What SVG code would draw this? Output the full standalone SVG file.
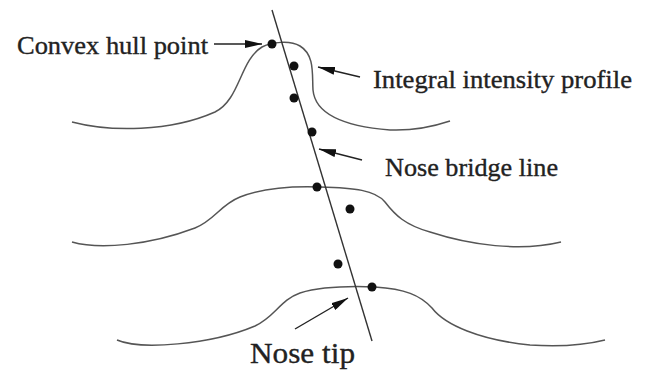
<svg xmlns="http://www.w3.org/2000/svg" width="646" height="370" viewBox="0 0 646 370">
<defs>
<style>
.curve{fill:none;stroke:#555;stroke-width:1.5}
.axis{fill:none;stroke:#333;stroke-width:1.4}
.arr{fill:none;stroke:#222;stroke-width:1.4}
.dot{fill:#111}
.lbl{font-family:"Liberation Serif","Times New Roman",serif;fill:#222;stroke:#222;stroke-width:0.35;font-size:26px}
</style>
<marker id="ah" markerWidth="18" markerHeight="8" refX="17" refY="4" orient="auto" markerUnits="userSpaceOnUse">
<path d="M0,0 L17,4 L0,8 Z" fill="#111"/>
</marker>
</defs>
<rect width="646" height="370" fill="#fff"/>
<g id="profiles">
<path class="curve" d="M72,122 C110,132 170,132 215,112 C240,100 240,60 262,47 C272,42 290,40 300,46 C315,55 312,75 313,90 C315,112 340,126 390,130 C415,131 435,126 450,121"/>
<path class="curve" d="M72,242 C100,250 150,245 195,228 C215,220 220,205 240,197 C260,189 290,186 320,187 C355,188 375,190 385,202 C395,215 405,225 430,232 C470,245 520,252 561,242"/>
<path class="curve" d="M117,340 C140,350 210,345 255,326 C275,317 280,300 300,293 C320,287 350,286 375,287 C405,289 420,295 432,308 C445,325 480,340 530,345 C560,347 585,345 605,340"/>
</g>
<g id="bridge-line">
<line class="axis" x1="272" y1="10" x2="372" y2="341"/>
</g>
<g id="points">
<circle class="dot" cx="272" cy="44" r="4.5"/>
<circle class="dot" cx="294" cy="66" r="4.5"/>
<circle class="dot" cx="294" cy="98" r="4.5"/>
<circle class="dot" cx="312" cy="132" r="4.5"/>
<circle class="dot" cx="317" cy="187" r="4.5"/>
<circle class="dot" cx="350" cy="209" r="4.5"/>
<circle class="dot" cx="338" cy="264" r="4.5"/>
<circle class="dot" cx="372" cy="287" r="4.5"/>
</g>
<g id="connectors">
<line class="arr" x1="214" y1="44" x2="262" y2="44" marker-end="url(#ah)"/>
<line class="arr" x1="360" y1="77" x2="318" y2="67" marker-end="url(#ah)"/>
<line class="arr" x1="362" y1="160" x2="319" y2="149" marker-end="url(#ah)"/>
<line class="arr" x1="295" y1="329" x2="348" y2="298" marker-end="url(#ah)"/>
</g>
<g id="label-convex">
<text class="lbl" x="17" y="54" textLength="191" lengthAdjust="spacingAndGlyphs">Convex hull point</text>
</g>
<g id="label-integral">
<text class="lbl" x="373" y="88" textLength="259" lengthAdjust="spacingAndGlyphs">Integral intensity profile</text>
</g>
<g id="label-bridge">
<text class="lbl" x="385" y="176" textLength="173" lengthAdjust="spacingAndGlyphs">Nose bridge line</text>
</g>
<g id="label-tip">
<text class="lbl" x="250" y="363" style="font-size:30px" textLength="105" lengthAdjust="spacingAndGlyphs">Nose tip</text>
</g>
</svg>
